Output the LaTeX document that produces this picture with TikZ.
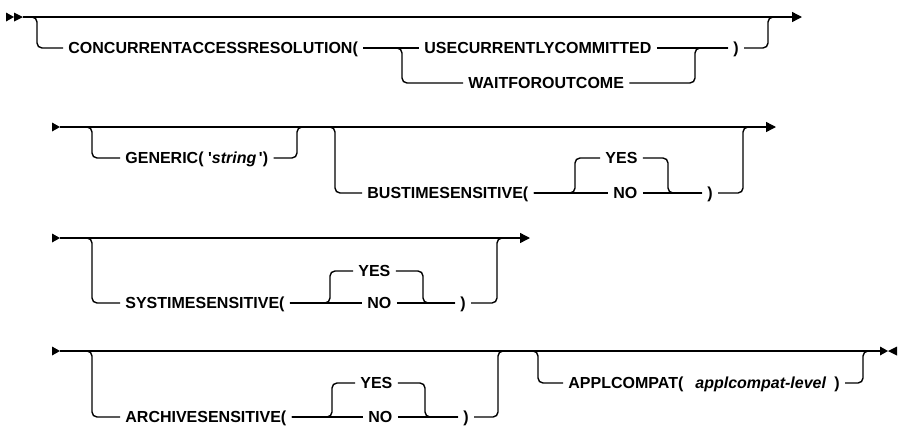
\documentclass[tikz,border=0pt]{standalone}
\usepackage{fontspec}
\setmainfont{Liberation Sans}
\usetikzlibrary{arrows.meta}
\tikzset{
  % plain rail with the usual soft bends
  rail/.style    = {line width=0.7pt, rounded corners=2.5pt},
  railend/.style = {line width=0.7pt, -{Triangle[length=5pt,width=5pt]}},
  kw/.style      = {anchor=west, inner xsep=2.5pt, inner ysep=0pt, text height=5.7pt,
                    text depth=0pt, font=\fontsize{8}{9}\selectfont\bfseries},
}

\begin{document}
\begin{tikzpicture}[x=0.5pt,y=-0.5pt]
\useasboundingbox (0,0) rectangle (899,434);
% row 1
\coordinate (s1) at (23,17);
\coordinate (e1) at (802,17);
\fill (6,12.5) -- (14,17) -- (6,21.5) -- cycle;
\fill (14,12.5) -- (23,17) -- (14,21.5) -- cycle;
\draw[railend] (s1) -- (e1);
\node[kw] (conc) at (63,48) {CONCURRENTACCESSRESOLUTION(\hspace{7pt}};
\node[kw] (usecur) at (419,48) {USECURRENTLYCOMMITTED\hspace{7pt}};
\node[kw] (waitfor) at (463,83) {WAITFOROUTCOME\hspace{6pt}};
\node[kw] (rp1) at (728,48) {)};
\coordinate (d1) at (37,48);
\coordinate (c1) at (402,83);
\coordinate (c2) at (695,48);
\coordinate (j1) at (768,17);
\coordinate (j1r) at (782,17);
\draw[rail] (s1) -| (d1) -- (conc.west);
\draw[rail] (conc.east) -- (usecur.west);
\draw[rail] (conc.east) -| (c1) -- (waitfor.west);
\draw[rail] (usecur.east) -- (rp1.west);
\draw[rail] (waitfor.east) -| (c2) -- (rp1.west);
\draw[rail] (rp1.east) -| (j1) -- (j1r);
% row 2
\coordinate (s2) at (60,127);
\coordinate (e2) at (776,127);
\fill (52,122.5) -- (60,127) -- (52,131.5) -- cycle;
\draw[railend] (s2) -- (e2);
\node[kw] (generic) at (120,158) {GENERIC(\ \textquotesingle\textit{string}\,\textquotesingle)};
\node[kw] (bus) at (362,193) {BUSTIMESENSITIVE(\hspace{7pt}};
\node[kw] (yes2) at (600,158) {YES};
\node[kw] (no2) at (608,193) {NO};
\node[kw] (rp2) at (702,193) {)};
\coordinate (d2) at (92,158);
\coordinate (j2a) at (297,127);
\coordinate (d2b) at (335,193);
\coordinate (y2l) at (575,158);
\coordinate (y2r) at (668,193);
\coordinate (j2b) at (743,127);
\coordinate (j2c) at (756,127);
\draw[rail] (s2) -| (d2) -- (generic.west);
\draw[rail] (generic.east) -| (j2a) -| (d2b) -- (bus.west);
\draw[rail] (bus.east) -- (no2.west);
\draw[rail] (bus.east) -| (y2l) -- (yes2.west);
\draw[rail] (yes2.east) -| (y2r) -- (rp2.west);
\draw[rail] (no2.east) -- (rp2.west);
\draw[rail] (rp2.east) -| (j2b) -- (j2c);
% row 3
\coordinate (s3) at (60,238);
\coordinate (e3) at (530,238);
\fill (52,233.5) -- (60,238) -- (52,242.5) -- cycle;
\draw[railend] (s3) -- (e3);
\node[kw] (sys) at (120,303) {SYSTIMESENSITIVE(\hspace{7pt}};
\node[kw] (yes3) at (353,271) {YES};
\node[kw] (no3) at (362,303) {NO};
\node[kw] (rp3) at (455,303) {)};
\coordinate (d3) at (92,303);
\coordinate (y3l) at (330,271);
\coordinate (y3r) at (423,303);
\coordinate (j3a) at (497,238);
\coordinate (j3b) at (510,238);
\draw[rail] (s3) -| (d3) -- (sys.west);
\draw[rail] (sys.east) -- (no3.west);
\draw[rail] (sys.east) -| (y3l) -- (yes3.west);
\draw[rail] (yes3.east) -| (y3r) -- (rp3.west);
\draw[rail] (no3.east) -- (rp3.west);
\draw[rail] (rp3.east) -| (j3a) -- (j3b);
% row 4
\coordinate (s4) at (60,351);
\coordinate (e4) at (880,351);
\fill (52,346.5) -- (60,351) -- (52,355.5) -- cycle;
\draw[rail] (s4) -- (e4);
\fill (880,346.5) -- (888,351) -- (880,355.5) -- cycle;
\fill (897,346.5) -- (888,351) -- (897,355.5) -- cycle;
\node[kw] (arc) at (120,417) {ARCHIVESENSITIVE(\hspace{7pt}};
\node[kw] (yes4) at (355,383) {YES};
\node[kw] (no4) at (363,417) {NO};
\node[kw] (rp4) at (458,417) {)};
\node[kw] (appl) at (563,383) {APPLCOMPAT(\hspace{6pt}\textit{applcompat-level}\hspace{4pt})};
\coordinate (d4) at (92,417);
\coordinate (y4l) at (332,383);
\coordinate (y4r) at (425,417);
\coordinate (j4a) at (498,351);
\coordinate (d4b) at (538,383);
\coordinate (j4b) at (863,351);
\draw[rail] (s4) -| (d4) -- (arc.west);
\draw[rail] (arc.east) -- (no4.west);
\draw[rail] (arc.east) -| (y4l) -- (yes4.west);
\draw[rail] (yes4.east) -| (y4r) -- (rp4.west);
\draw[rail] (no4.east) -- (rp4.west);
\draw[rail] (rp4.east) -| (j4a) -| (d4b) -- (appl.west);
\draw[rail] (appl.east) -| (j4b) -- (e4);
\end{tikzpicture}
\end{document}
